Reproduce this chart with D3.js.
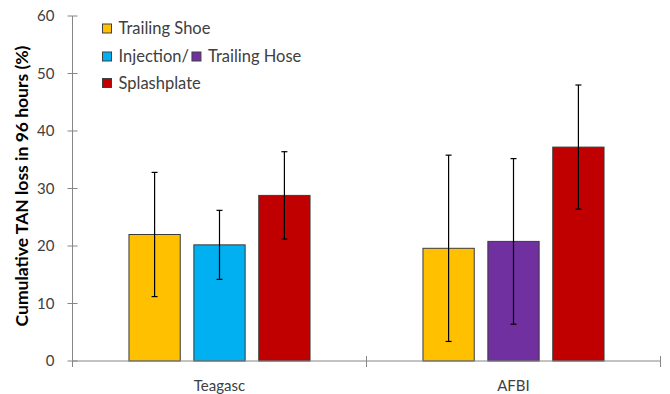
<!DOCTYPE html>
<html>
<head>
<meta charset="utf-8">
<script src="https://cdn.jsdelivr.net/npm/d3@7"></script>
<style>
  html, body { margin: 0; padding: 0; background: #fff; }
  svg { display: block; font-family: Lato, "Open Sans", sans-serif; }
</style>
</head>
<body>
<svg id="chart" width="670" height="394"></svg>
<script>
// Sites along the x axis
const sites = ["Teagasc", "AFBI"];
// Application methods drawn within each site (left to right)
const methods = ["Trailing Shoe", "Injection / Trailing Hose", "Splashplate"];
// Mean cumulative TAN loss (%) per site, one entry per method
const teagascMeans = [22.0, 20.2, 28.8];
const afbiMeans = [19.6, 20.8, 37.2];
// Error bar half-widths (%)
const teagascErrors = [10.8, 6.0, 7.6];
const afbiErrors = [16.2, 14.4, 10.8];
// Fill colours per site and method (the middle method differs between sites)
const teagascColors = ["#FFC000", "#00B0F0", "#C00000"];
const afbiColors = ["#FFC000", "#7030A0", "#C00000"];
// Y axis ticks
const yTicks = [0, 10, 20, 30, 40, 50, 60];
// Legend rows
const legendRows = [
  [{ label: "Trailing Shoe", color: "#FFC000" }],
  [{ label: "Injection/", color: "#00B0F0" }, { label: "Trailing Hose", color: "#7030A0" }],
  [{ label: "Splashplate", color: "#C00000" }]
];

const siteData = [
  { site: sites[0], means: teagascMeans, errors: teagascErrors, colors: teagascColors },
  { site: sites[1], means: afbiMeans, errors: afbiErrors, colors: afbiColors }
];

const svg = d3.select("#chart");
const axisColor = "#868686";
const textColor = "#404040";

const plotLeft = 72.5, plotRight = 660.5, plotTop = 16, plotBottom = 361;

const x0 = d3.scaleBand().domain(sites).range([plotLeft, plotRight]).padding(0);
const x1 = d3.scaleBand().domain(methods).range([0, x0.bandwidth()])
  .paddingInner(0.21).paddingOuter(0.87);
const y = d3.scaleLinear().domain([0, 60]).range([plotBottom, plotTop]);

// Bars and error bars
const groups = svg.append("g").selectAll("g")
  .data(siteData).join("g")
  .attr("transform", d => `translate(${x0(d.site)},0)`);

groups.each(function (d) {
  const g = d3.select(this);
  const rows = methods.map((m, i) => ({ m, v: d.means[i], e: d.errors[i], c: d.colors[i] }));
  g.selectAll("rect").data(rows).join("rect")
    .attr("x", r => x1(r.m))
    .attr("y", r => y(r.v))
    .attr("width", x1.bandwidth())
    .attr("height", r => y(0) - y(r.v))
    .attr("fill", r => r.c)
    .attr("stroke", "#3a3a3a")
    .attr("stroke-width", 1);

  const eb = g.selectAll("g.err").data(rows).join("g").attr("class", "err")
    .attr("stroke", "#000").attr("stroke-width", 1.2);
  eb.append("line")
    .attr("x1", r => x1(r.m) + x1.bandwidth() / 2)
    .attr("x2", r => x1(r.m) + x1.bandwidth() / 2)
    .attr("y1", r => y(r.v + r.e))
    .attr("y2", r => y(r.v - r.e));
  [1, -1].forEach(s => {
    eb.append("line")
      .attr("x1", r => x1(r.m) + x1.bandwidth() / 2 - 3)
      .attr("x2", r => x1(r.m) + x1.bandwidth() / 2 + 3)
      .attr("y1", r => y(r.v + s * r.e))
      .attr("y2", r => y(r.v + s * r.e));
  });
});

// Y axis with ticks crossing the line
const yAxis = svg.append("g").attr("transform", `translate(${plotLeft},0)`);
yAxis.append("line").attr("x1", 0).attr("x2", 0).attr("y1", y(60)).attr("y2", y(0))
  .attr("stroke", axisColor);
yAxis.selectAll("line.tick").data(yTicks).join("line").attr("class", "tick")
  .attr("x1", -5).attr("x2", 5)
  .attr("y1", d => y(d)).attr("y2", d => y(d))
  .attr("stroke", axisColor);
yAxis.selectAll("text").data(yTicks).join("text")
  .attr("x", -18).attr("y", d => y(d)).attr("dy", "0.35em")
  .attr("text-anchor", "end")
  .attr("font-size", 15).attr("fill", textColor)
  .text(d => d);

// X axis with boundary ticks
const xAxis = svg.append("g");
xAxis.append("line").attr("x1", plotLeft).attr("x2", plotRight).attr("y1", y(0)).attr("y2", y(0))
  .attr("stroke", axisColor);
const bounds = sites.map(s => x0(s)).concat([x0(sites[sites.length - 1]) + x0.bandwidth()]);
xAxis.selectAll("line.tick").data(bounds).join("line").attr("class", "tick")
  .attr("x1", d => d).attr("x2", d => d)
  .attr("y1", y(0) - 5).attr("y2", y(0) + 6)
  .attr("stroke", axisColor);
xAxis.selectAll("text").data(sites).join("text")
  .attr("x", d => x0(d) + x0.bandwidth() / 2).attr("y", 391)
  .attr("text-anchor", "middle").attr("font-size", 15).attr("fill", textColor)
  .text(d => d);

// Y axis title
svg.append("text")
  .attr("transform", "translate(28,186) rotate(-90)")
  .attr("text-anchor", "middle")
  .attr("font-size", 17.5).attr("font-weight", "bold").attr("fill", "#000")
  .text("Cumulative TAN loss in 96 hours (%)");

// Legend
const legendY = [28.5, 56.5, 83];
legendRows.forEach((row, ri) => {
  let cx = 102.5;
  row.forEach(item => {
    const g = svg.append("g").attr("transform", `translate(${cx},${legendY[ri]})`);
    g.append("rect").attr("x", 0).attr("y", -4.5).attr("width", 9).attr("height", 9)
      .attr("fill", item.color).attr("stroke", "#404040").attr("stroke-width", 1);
    const t = g.append("text").attr("x", 16).attr("y", 0).attr("dy", "0.35em")
      .attr("font-size", 16.5).attr("fill", textColor).text(item.label);
    cx += 16 + t.node().getComputedTextLength() + 3;
  });
});
</script>
</body>
</html>
